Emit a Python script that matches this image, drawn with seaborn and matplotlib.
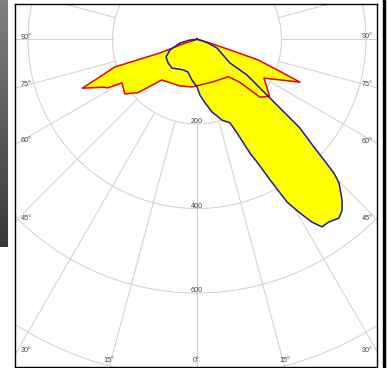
import numpy as np
import pandas as pd
import seaborn as sns
import matplotlib.pyplot as plt
from matplotlib.patches import Rectangle

# luminous intensity (cd) against gamma angle (deg), 0 = straight down, + = right
red_angle = [-180, -90, -74, -72, -70, -71, -71.5, -69, -67, -63, -61.5, -60, -53, -48,
             -41, -20, -6, 20, 40, 45, 47.5, 52, 60, 65, 67.5, 69, 71.5, 72.5, 74, 78, 90, 180]
red_cd = [2, 2, 12, 42, 93, 143, 205, 246, 295, 249, 240, 205, 214, 188,
          127, 117, 113, 107, 115, 143, 202, 218, 183, 229, 264, 210, 152, 82, 39, 10, 2, 2]

blue_angle = [-180, -90, -86, -78.4, -68.7, -60.6, -51, -41.3, -24.7, -15.5, -7, 0, 3.1, 7.2,
              11.7, 17.3, 21.6, 23.2, 25, 26.1, 27.5, 29, 30.7, 32.2, 33.7, 35.9, 38.5, 40.4,
              42.1, 44.7, 45.7, 46.5, 47.4, 49.3, 52.8, 54.6, 54.5, 67, 72.3, 80, 90, 180]
blue_cd = [1, 2, 17, 41, 69, 84, 88, 90, 79, 80, 97, 112, 132, 151,
           175, 200, 212, 241, 297, 323, 375, 440, 478, 511, 533, 533, 540, 530,
           512, 478, 453, 414, 376, 321, 178, 145, 96, 51, 27, 7, 2, 1]

ring_values = [200, 400, 600, 800]
ring_labels = ["200", "400", "600"]
spoke_angles = list(range(-180, 180, 15))

left_labels = ["90°", "75°", "60°", "45°", "30°"]
left_label_y = [37.5, 85, 141, 219, 351]
right_label_y = [36, 84.5, 141.5, 218.5, 350.5]
bottom_labels = ["15°", "0°", "15°"]
bottom_label_x = [108.5, 196.5, 284.5]

W, H = 387, 368
cx, cy = 197, 39.5      # pole position in pixels
px_per_cd = 0.4225
rmax = 900
R = rmax * px_per_cd

fig = plt.figure(figsize=(W / 100, H / 100), dpi=100)

ax = fig.add_axes([(cx - R) / W, (H - cy - R) / H, 2 * R / W, 2 * R / H], projection="polar")
ax.set_theta_zero_location("S")
ax.set_theta_direction(1)
ax.set_ylim(0, rmax)
ax.set_axis_off()

fr = fig.add_axes([15 / W, 1 - 367 / H, 362 / W, 363 / H], zorder=3)
fr.set_facecolor("none")
fr.set_xticks([])
fr.set_yticks([])
for s in fr.spines.values():
    s.set_color("black")
    s.set_linewidth(1.0)

# grid: rings and spokes starting at 200 cd, kept under the fill
grid_col = "#cfcfcf"
th = np.linspace(0, 2 * np.pi, 721)
for rv in ring_values:
    ax.plot(th, np.full_like(th, rv), color=grid_col, lw=0.7, zorder=0.5)
for a in spoke_angles:
    ax.plot(np.deg2rad([a, a]), [200, rmax], color=grid_col, lw=0.7, zorder=0.5)

red = pd.DataFrame({"theta": np.deg2rad(red_angle), "cd": red_cd})
blue = pd.DataFrame({"theta": np.deg2rad(blue_angle), "cd": blue_cd})

ax.fill(red["theta"], red["cd"], color="#ffff00", lw=0, zorder=1)
ax.fill(blue["theta"], blue["cd"], color="#ffff00", lw=0, zorder=1)
sns.lineplot(data=red, x="theta", y="cd", sort=False, estimator=None, ax=ax,
             color="#e8000b", lw=1.1, zorder=2)
sns.lineplot(data=blue, x="theta", y="cd", sort=False, estimator=None, ax=ax,
             color="#1a1aa0", lw=1.1, zorder=2.1)
ax.set_xlabel("")
ax.set_ylabel("")

txt = dict(fontsize=5.2, family="Liberation Sans", color="#444444")
for rv, lab in zip(ring_values, ring_labels):
    ax.text(0, rv + 3, lab, ha="center", va="bottom", **txt)

for art in ax.lines + ax.patches:
    art.set_clip_path(fr.patch)

for lab, yl, yr in zip(left_labels, left_label_y, right_label_y):
    fig.text(21 / W, 1 - yl / H, lab, ha="left", va="center", **txt)
    fig.text(373 / W, 1 - yr / H, lab, ha="right", va="center", **txt)
for lab, xb in zip(bottom_labels, bottom_label_x):
    fig.text(xb / W, 1 - 361 / H, lab, ha="center", va="center", **txt)

# screenshot leftovers: grey strip at left, black bar at right
strip = fig.add_axes([0, 1 - 247 / H, 8 / W, 247 / H])
strip.imshow(np.linspace(0.5, 0.22, 100)[:, None], cmap="gray", vmin=0, vmax=1, aspect="auto")
strip.set_axis_off()
fig.add_artist(Rectangle((383 / W, 0), 2 / W, 1, transform=fig.transFigure, color="black"))

fig.savefig("out.png", dpi=100)
